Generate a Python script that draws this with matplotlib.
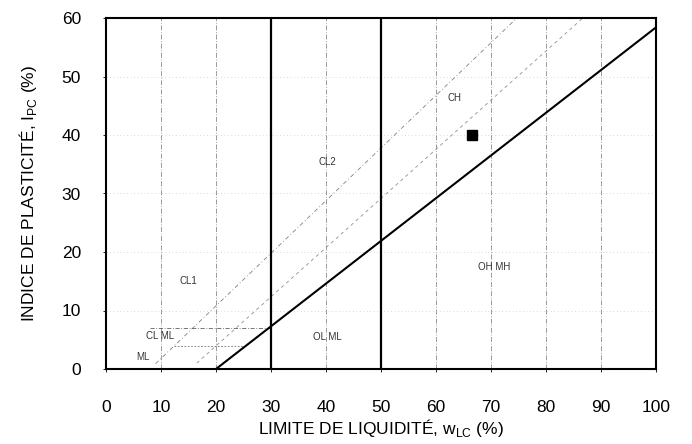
import matplotlib
matplotlib.use("Agg")
import matplotlib.pyplot as plt
import numpy as np

plt.rcParams['font.family'] = ['Liberation Sans', 'DejaVu Sans']

# A-line : Ip = 0.73 (wL - 20)
a_line_x = [20, 100]
a_line_y = [0, 58.4]

# U-line type boundary (dash-dot)
u_line_x = [9, 74.7]
u_line_y = [0.9, 60]

# second dashed boundary between CL2 / CH
mid_line_x = [16.5, 86.7]
mid_line_y = [1.0, 60]

# CL-ML band
clml_top_x = [8, 30]
clml_top_y = [7, 7]
clml_bot_x = [12.4, 25.5]
clml_bot_y = [4, 4]

# thick limits on liquid limit
w_limits = [30, 50]

# zone labels
zone_names = ["ML", "CL ML", "CL1", "CL2", "CH", "OL ML", "OH MH"]
zone_x = [6.8, 9.9, 15.0, 40.2, 63.3, 40.2, 70.5]
zone_y = [2.1, 5.6, 15.1, 35.3, 46.3, 5.4, 17.4]

# measured sample
sample_wl = [66.6]
sample_ip = [40.0]

x_ticks = list(range(0, 101, 10))
y_ticks = list(range(0, 61, 10))

fig = plt.figure(figsize=(6.92, 4.44), dpi=100)
ax = fig.add_axes([106/692, 75/444, 550/692, 351/444])

# faint grid lines like the scanned chart
for xv in [10, 20, 40, 60, 70, 80, 90]:
    ax.axvline(xv, color="#8a8a8a", lw=0.6, ls=(0, (6, 2, 1, 2)), zorder=1)
for yv in [10, 20, 30, 40, 50]:
    ax.axhline(yv, color="#b8b8b8", lw=0.5, ls=(0, (1, 4)), zorder=1)

ax.plot(u_line_x, u_line_y, color="#808080", lw=0.6, ls=(0, (5, 3, 1, 3)), zorder=2)
ax.plot(mid_line_x, mid_line_y, color="#909090", lw=0.6, ls=(0, (4, 4)), zorder=2)
ax.plot(clml_top_x, clml_top_y, color="#606060", lw=0.6, ls=(0, (5, 2, 1, 2)), zorder=2)
ax.plot(clml_bot_x, clml_bot_y, color="#707070", lw=0.6, ls=(0, (2, 2)), zorder=2)

for w in w_limits:
    ax.axvline(w, color="black", lw=1.6, zorder=3)
ax.plot(a_line_x, a_line_y, color="black", lw=1.5, zorder=3)

for name, zx, zy in zip(zone_names, zone_x, zone_y):
    ax.text(zx, zy, name, fontsize=7, color="#333333", ha="center", va="center", zorder=4)

ax.plot(sample_wl, sample_ip, marker="s", color="black", markersize=7, ls="none", zorder=5)

ax.set_xlim(0, 100)
ax.set_ylim(0, 60)
ax.set_xticks(x_ticks)
ax.set_yticks(y_ticks)
ax.tick_params(axis="both", length=2, width=0.6, labelsize=12.5)
ax.tick_params(axis="x", pad=20)
ax.tick_params(axis="y", pad=16)
for s in ax.spines.values():
    s.set_linewidth(1.5)

ax.set_xlabel(r"LIMITE DE LIQUIDITÉ, w$_{\mathregular{LC}}$ (%)", fontsize=12.5, labelpad=2)
ax.set_ylabel(r"INDICE DE PLASTICITÉ, I$_{\mathregular{PC}}$ (%)", fontsize=12.5, labelpad=16)

fig.savefig("out.png", dpi=100)
